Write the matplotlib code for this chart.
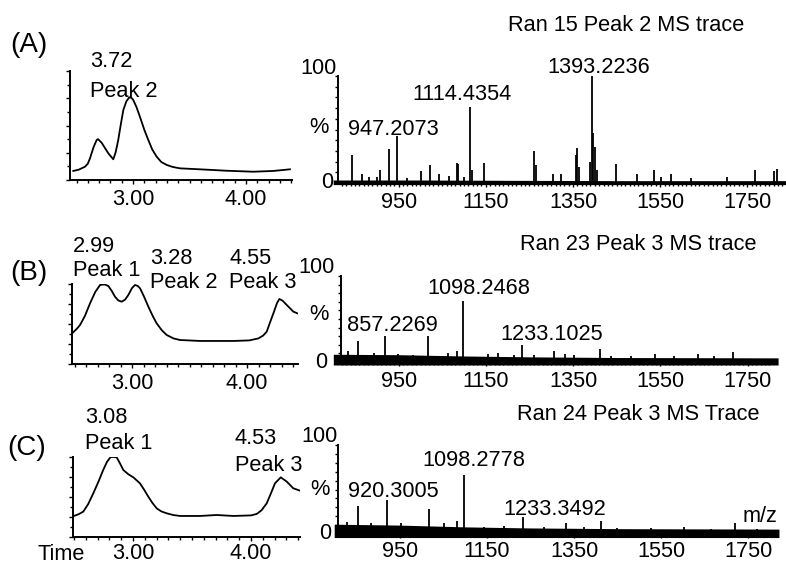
import matplotlib
matplotlib.use("Agg")
import matplotlib.pyplot as plt
from matplotlib.ticker import MultipleLocator, FixedLocator, NullFormatter

plt.rcParams['font.family'] = ['Liberation Sans', 'DejaVu Sans']
plt.rcParams['font.size'] = 15.7

W, H = 786, 564

# ---- chromatograms (time, relative intensity) ----
time_a = [2.471, 2.52, 2.575, 2.60, 2.619, 2.65, 2.678, 2.690, 2.722, 2.781, 2.825, 2.845,
          2.869, 2.89, 2.914, 2.94, 2.967, 2.985, 3.002, 3.03, 3.061, 3.10, 3.135, 3.17,
          3.209, 3.25, 3.298, 3.35, 3.415, 3.592, 3.829, 4.064, 4.241, 4.389]
inten_a = [8.3, 9.5, 12.2, 15.0, 19.9, 30.0, 36.7, 37.5, 34.2, 24.5, 19.0, 25.0,
           36.7, 50.0, 64.2, 72.0, 75.9, 75.5, 73.4, 67.0, 58.0, 46.0, 36.7, 28.0,
           21.4, 16.5, 13.8, 12.0, 10.7, 9.8, 8.5, 7.6, 8.3, 9.8]

time_b = [2.484, 2.52, 2.548, 2.59, 2.635, 2.68, 2.722, 2.76, 2.794, 2.825, 2.852, 2.88,
          2.910, 2.94, 2.968, 3.0, 3.026, 3.05, 3.070, 3.105, 3.142, 3.18, 3.214, 3.26,
          3.301, 3.36, 3.417, 3.591, 3.881, 4.02, 4.098, 4.14, 4.171, 4.20, 4.229, 4.26,
          4.281, 4.31, 4.345, 4.403, 4.443]
inten_b = [39.0, 44.0, 48.8, 60.0, 75.9, 90.0, 98.8, 99.5, 97.5, 91.0, 84.1, 79.5,
           77.9, 80.5, 86.3, 95.0, 98.8, 97.5, 94.6, 84.0, 71.6, 60.0, 50.8, 42.0,
           36.3, 32.0, 30.0, 28.8, 28.8, 29.5, 32.0, 35.5, 40.4, 52.0, 63.3, 76.0,
           81.3, 79.0, 73.8, 65.4, 63.0]

time_c = [2.494, 2.54, 2.579, 2.62, 2.664, 2.71, 2.748, 2.78, 2.811, 2.84, 2.862, 2.89,
          2.918, 2.96, 3.003, 3.059, 3.095, 3.130, 3.165, 3.201, 3.24, 3.286, 3.34, 3.398,
          3.568, 3.709, 3.850, 4.0, 4.048, 4.09, 4.133, 4.17, 4.203, 4.252, 4.303, 4.358,
          4.415]
inten_c = [26.0, 28.5, 31.7, 41.0, 54.6, 70.0, 83.8, 94.0, 100.0, 100.0, 99.6, 92.0,
           83.8, 78.5, 74.6, 67.1, 59.0, 50.4, 42.5, 35.8, 32.0, 29.6, 27.5, 26.3,
           26.3, 27.5, 26.3, 27.0, 28.8, 33.5, 42.1, 55.0, 67.1, 74.6, 69.2, 60.9,
           57.9]

# peak annotations on the chromatograms: (text, left px, baseline px)
chrom_labels_a = [("3.72", 90, 67), ("Peak 2", 90, 97)]
chrom_labels_b = [("2.99", 73, 252), ("Peak 1", 73, 276), ("3.28", 150, 264),
                  ("Peak 2", 150, 288), ("4.55", 229, 264), ("Peak 3", 229, 288)]
chrom_labels_c = [("3.08", 85, 423), ("Peak 1", 85, 449), ("4.53", 235, 444),
                  ("Peak 3", 235, 471)]

# ---- mass spectra (m/z, % intensity) ----
mz_a = [809.6, 844.0, 865.0, 883.0, 900.6, 907.0, 928.0, 947.2073, 969.4, 1001.0, 1021.5,
        1042.8, 1065.0, 1083.0, 1087.0, 1100.0, 1114.4354, 1119.0, 1146.0, 1260.7, 1264.6,
        1305.0, 1323.0, 1356.4, 1360.0, 1364.0, 1389.0, 1393.2236, 1396.8, 1400.6,
        1404.5, 1448.0, 1497.7, 1536.0, 1551.3, 1574.0, 1620.0, 1704.0, 1767.0, 1811.0,
        1817.0]
int_a = [30.6, 26.0, 8.8, 6.0, 6.0, 11.9, 32.2, 43.8, 5.0, 11.3, 17.2,
         8.0, 6.5, 18.8, 17.5, 6.0, 71.3, 12.0, 18.8, 29.7, 16.6,
         8.0, 8.8, 26.0, 33.0, 15.0, 19.7, 100.0, 46.3, 33.8,
         12.0, 17.5, 8.0, 12.0, 5.9, 8.8, 5.0, 6.0, 12.5, 11.3,
         13.4]
noise_mz_a = [800, 1000, 1200, 1450, 1850]
noise_a = [2.8, 2.8, 2.5, 2.2, 2.2]

mz_b = [806.0, 833.0, 857.2269, 894.0, 919.3, 948.0, 982.0, 1016.6, 1062.5, 1083.0,
        1098.2468, 1154.0, 1177.0, 1215.0, 1233.1025, 1261.0, 1307.0, 1331.5, 1353.0,
        1411.8, 1437.0, 1483.0, 1538.0, 1582.0, 1636.0, 1674.0, 1716.0]
int_b = [15.0, 12.4, 25.0, 10.4, 29.7, 9.7, 8.5, 30.5, 10.4, 12.4,
         71.4, 9.7, 10.4, 8.5, 19.3, 8.5, 12.4, 9.7, 8.5,
         15.4, 7.3, 6.6, 9.7, 6.6, 9.7, 6.6, 11.2]
noise_mz_b = [800, 950, 1100, 1250, 1450, 1820]
noise_b = [9.0, 8.5, 7.0, 6.0, 5.2, 4.8]

mz_c = [830.0, 854.5, 883.6, 920.3005, 952.4, 1017.3, 1051.7, 1082.0, 1098.2778, 1143.5,
        1189.3, 1233.3492, 1281.0, 1330.8, 1372.8, 1412.5, 1449.0, 1525.8, 1602.0,
        1663.4, 1718.5, 1770.3]
int_c = [13.7, 31.0, 11.9, 38.5, 12.6, 28.5, 11.9, 14.8, 66.7, 8.1,
         8.9, 19.3, 8.1, 12.6, 7.4, 14.8, 6.7, 6.3, 7.4,
         5.9, 12.6, 5.9]
noise_mz_c = [800, 950, 1100, 1250, 1450, 1820]
noise_c = [11.0, 10.0, 8.0, 6.8, 6.0, 5.5]

ms_titles = ["Ran 15 Peak 2 MS trace", "Ran 23 Peak 3 MS trace", "Ran 24 Peak 3 MS Trace"]
ms_labels_a = [("1393.2236", 547, 73), ("1114.4354", 412, 100), ("947.2073", 348, 135)]
ms_labels_b = [("1098.2468", 427, 294), ("857.2269", 347, 331), ("1233.1025", 500, 340)]
ms_labels_c = [("1098.2778", 422, 466), ("920.3005", 348, 497), ("1233.3492", 503, 515)]
mz_ticks = [950, 1150, 1350, 1550, 1750]


def box(l, t, r, b):
    return [l / W, 1 - b / H, (r - l) / W, (b - t) / H]


def ftext(fig, x, y, s, **kw):
    fig.text(x / W, 1 - y / H, s, va='baseline', **kw)


def style_axes(ax, pad):
    for side in ('top', 'right'):
        ax.spines[side].set_visible(False)
    for side in ('left', 'bottom'):
        ax.spines[side].set_linewidth(1.4)
    ax.tick_params(which='both', direction='out', width=1.0)
    ax.tick_params(which='major', length=3, pad=pad)
    ax.tick_params(which='minor', length=2)
    ax.yaxis.set_major_formatter(NullFormatter())


def chromatogram(fig, rect, t, y, xlim, pad=3.5):
    ax = fig.add_axes(rect)
    ax.plot(t, y, color='k', lw=1.3, solid_joinstyle='round')
    ax.set_xlim(*xlim)
    ax.set_ylim(0, 100)
    style_axes(ax, pad)
    ax.xaxis.set_major_locator(FixedLocator([3.0, 4.0]))
    ax.set_xticklabels(["3.00", "4.00"])
    ax.xaxis.set_minor_locator(MultipleLocator(0.1))
    ax.yaxis.set_major_locator(MultipleLocator(25))
    ax.yaxis.set_minor_locator(MultipleLocator(12.5))
    return ax


def spectrum(fig, rect, mz, inten, nmz, nlev, xlim, floor, pad=3.5):
    ax = fig.add_axes(rect)
    # noise floor drawn as a solid band straddling the baseline
    ax.fill_between(nmz, -floor, nlev, color='k', lw=0, clip_on=False)
    ax.vlines(mz, 0, inten, color='k', lw=1.3)
    ax.set_xlim(*xlim)
    ax.set_ylim(0, 100)
    style_axes(ax, pad)
    ax.xaxis.set_major_locator(FixedLocator(mz_ticks))
    ax.set_xticklabels([str(v) for v in mz_ticks])
    ax.xaxis.set_minor_locator(MultipleLocator(10))
    ax.set_yticks([])
    ax.yaxis.set_minor_locator(MultipleLocator(10))
    return ax


fig = plt.figure(figsize=(W / 100, H / 100), dpi=100)

# left column: chromatograms
chromatogram(fig, box(70, 71, 292, 180), time_a, inten_a, (2.442, 4.407))
chromatogram(fig, box(72, 284, 298, 364), time_b, inten_b, (2.478, 4.443))
chromatogram(fig, box(73, 457, 300, 537), time_c, inten_c, (2.492, 4.415), pad=1.0)

# right column: mass spectra
spectrum(fig, box(338, 76, 786, 183), mz_a, int_a, noise_mz_a, noise_a, (811, 1838.5), 1.5)
spectrum(fig, box(341, 276, 772, 362), mz_b, int_b, noise_mz_b, noise_b, (817.6, 1806), 3.5)
spectrum(fig, box(338, 445, 778, 534), mz_c, int_c, noise_mz_c, noise_c, (808.7, 1817.8), 4.0,
         pad=2.0)

# panel letters
ftext(fig, 10, 52, "(A)", fontsize=20)
ftext(fig, 10, 280, "(B)", fontsize=20)
ftext(fig, 7, 455, "(C)", fontsize=20)

for labels in (chrom_labels_a, chrom_labels_b, chrom_labels_c):
    for s, x, y in labels:
        ftext(fig, x, y, s)
ftext(fig, 38, 560, "Time")

# spectrum titles and axis annotations
for s, x, y in zip(ms_titles, [508, 520, 517], [31, 250, 420]):
    ftext(fig, x, y, s)
for labels in (ms_labels_a, ms_labels_b, ms_labels_c):
    for s, x, y in labels:
        ftext(fig, x, y, s)

for (y100, ypct, y0), (x100, xpct, x0) in zip(
        [(74, 133, 188), (273, 320, 368), (442, 495, 539)],
        [(337, 329, 333), (335, 329, 327), (338, 330, 331)]):
    ftext(fig, x100, y100, "100", ha='right')
    ftext(fig, xpct, ypct, "%", ha='right')
    ftext(fig, x0, y0, "0", ha='right')
ftext(fig, 743, 522, "m/z")

fig.savefig("out.png", dpi=100)
